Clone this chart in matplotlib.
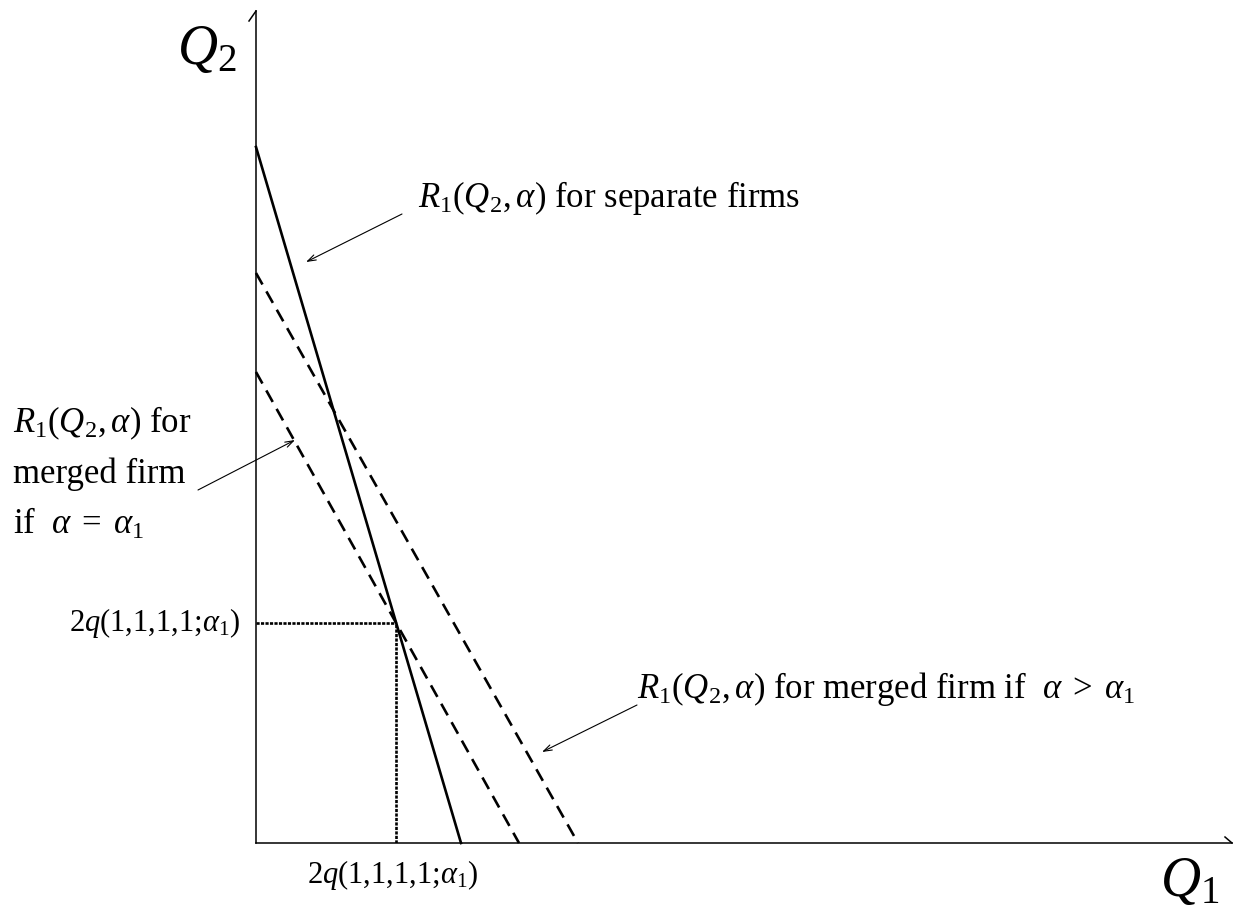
"""
Reaction functions of firm 1: separate firms vs. a merged firm.
"""

import matplotlib.pyplot as plt
import numpy as np

plt.rcParams["font.family"] = ["Liberation Serif", "DejaVu Serif"]
plt.rcParams["mathtext.fontset"] = "custom"
plt.rcParams["mathtext.rm"] = "Liberation Serif"
plt.rcParams["mathtext.it"] = "Liberation Serif:italic"
plt.rcParams["mathtext.bf"] = "Liberation Serif:bold"

# reaction lines: (Q2 intercept, Q1 intercept)
separate_firms = [696, 205]
merged_alpha1 = [471, 263]
merged_alpha_hi = [570, 322]

# axis extent
q1_max = 976
q2_max = 832

label_separate = r"$R_1(Q_2,\alpha)$ for separate firms"
label_merged_a1 = [r"$R_1(Q_2,\alpha)$ for", "merged firm", r"if  $\alpha\;=\;\alpha_1$"]
label_merged_hi = r"$R_1(Q_2,\alpha)$ for merged firm if  $\alpha\;>\;\alpha_1$"
label_eq = r"2$q$(1,1,1,1;$\alpha_1$)"


def line_xy(intercepts):
    b, a = intercepts
    return [0, a], [b, 0]


def intersect(l1, l2):
    b1, a1 = l1
    b2, a2 = l2
    s1, s2 = -b1 / a1, -b2 / a2
    x = (b2 - b1) / (s1 - s2)
    return x, b1 + s1 * x


fig = plt.figure(figsize=(12.37, 9.09), dpi=100)
ax = fig.add_axes([256 / 1237, 66 / 909, 976 / 1237, 832 / 909])
ax.set_xlim(0, q1_max)
ax.set_ylim(0, q2_max)
ax.axis("off")

# axes with little half arrowheads
ax.plot([0, 0], [0, q2_max], color="black", lw=1.1, clip_on=False)
ax.plot([0, q1_max], [0, 0], color="black", lw=1.1, clip_on=False)
ax.plot([0, -7], [q2_max, q2_max - 10], color="black", lw=1.1, clip_on=False)
ax.plot([q1_max, q1_max - 7], [0, 6], color="black", lw=1.1, clip_on=False)

x, y = line_xy(separate_firms)
ax.plot(x, y, color="black", lw=1.9, clip_on=False)
x, y = line_xy(merged_alpha1)
ax.plot(x, y, color="black", lw=1.9, linestyle=(0, (5, 3)), clip_on=False)
x, y = line_xy(merged_alpha_hi)
ax.plot(x, y, color="black", lw=1.9, linestyle=(0, (5, 3)), clip_on=False)

xi, yi = intersect(separate_firms, merged_alpha1)
ax.plot([0, xi], [yi, yi], color="black", lw=1.9, linestyle=(0, (1.2, 0.5)))
ax.plot([xi, xi], [0, yi], color="black", lw=1.9, linestyle=(0, (1.2, 0.5)))

ax.text(-49, 793, r"$Q_2$", fontsize=40, ha="center", va="center")
ax.text(934, -39, r"$Q_1$", fontsize=40, ha="center", va="center")

ax.text(-16, yi, label_eq, fontsize=22, ha="right", va="center")
ax.text(xi - 4, -15, label_eq, fontsize=22, ha="center", va="top")

arrow = dict(arrowstyle="->,head_length=0.6,head_width=0.2", color="black",
             lw=0.8, shrinkA=0, shrinkB=0)

ax.text(162, 636, label_separate, fontsize=25, ha="left", va="baseline")
ax.annotate("", xy=(50, 581), xytext=(146, 629), arrowprops=arrow,
            annotation_clip=False)

for i, line in enumerate(label_merged_a1):
    ax.text(-243, 411 - 51 * i, line, fontsize=25, ha="left", va="baseline")
ax.annotate("", xy=(39, 403), xytext=(-58, 353), arrowprops=arrow,
            annotation_clip=False)

ax.text(381, 145, label_merged_hi, fontsize=25, ha="left", va="baseline")
ax.annotate("", xy=(286, 91), xytext=(381, 138), arrowprops=arrow,
            annotation_clip=False)

fig.savefig("out.png", dpi=100)
plt.close(fig)
